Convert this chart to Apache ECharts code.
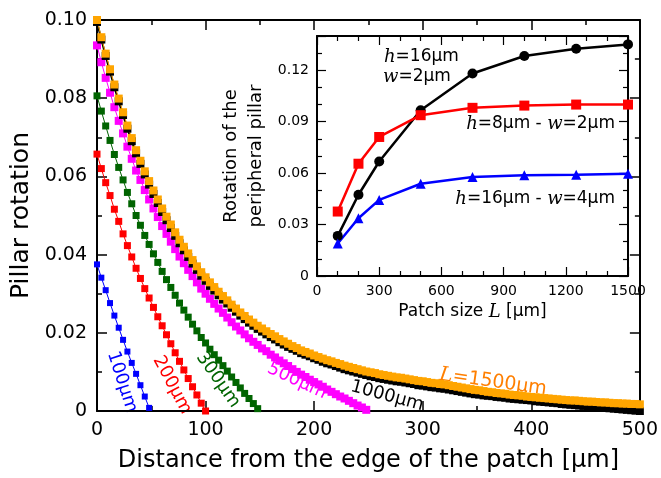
<!DOCTYPE html>
<html>
<head>
<meta charset="utf-8">
<script src="https://cdn.jsdelivr.net/npm/echarts@6/dist/echarts.min.js"></script>
<style>
  html, body { margin: 0; padding: 0; background: #fff; }
  #chart { width: 661px; height: 478px; }
</style>
</head>
<body>
<div id="chart"></div>
<script>
// distance from the patch edge (µm), one pillar every 4 µm
const distance = [0,4,8,12,16,20,24,28,32,36,40,44,48,52,56,60,64,68,72,76,80,84,88,92,96,100,104,108,112,116,120,124,128,132,136,140,144,148,152,156,160,164,168,172,176,180,184,188,192,196,200,204,208,212,216,220,224,228,232,236,240,244,248,252,256,260,264,268,272,276,280,284,288,292,296,300,304,308,312,316,320,324,328,332,336,340,344,348,352,356,360,364,368,372,376,380,384,388,392,396,400,404,408,412,416,420,424,428,432,436,440,444,448,452,456,460,464,468,472,476,480,484,488,492,496,500];

// pillar rotation for each patch size L
const rot100 = [0.0375,0.0341,0.0309,0.0276,0.0244,0.0213,0.0182,0.0152,0.0123,0.0095,0.0066,0.0037,0.0008];
const rot200 = [0.0657,0.0620,0.0584,0.0551,0.0516,0.0485,0.0453,0.0423,0.0394,0.0365,0.0339,0.0313,0.0289,0.0265,0.0241,0.0218,0.0195,0.0172,0.0149,0.0127,0.0105,0.0083,0.0062,0.0041,0.0020,0.0000];
const rot300 = [0.0806,0.0767,0.0729,0.0692,0.0656,0.0623,0.0591,0.0559,0.0530,0.0500,0.0475,0.0449,0.0426,0.0402,0.0380,0.0357,0.0336,0.0316,0.0296,0.0276,0.0258,0.0240,0.0222,0.0205,0.0188,0.0174,0.0158,0.0144,0.0130,0.0116,0.0102,0.0087,0.0073,0.0059,0.0045,0.0032,0.0019,0.0006];
const rot500 = [0.0935,0.0892,0.0852,0.0814,0.0777,0.0742,0.0710,0.0676,0.0645,0.0615,
  0.0591,0.0565,0.0541,0.0518,0.0496,0.0473,0.0453,0.0433,0.0414,0.0395,
  0.0378,0.0361,0.0345,0.0329,0.0313,0.0300,0.0287,0.0274,0.0262,0.0251,
  0.0239,0.0227,0.0216,0.0206,0.0196,0.0186,0.0177,0.0169,0.0160,0.0153,
  0.0144,0.0137,0.0129,0.0122,0.0115,0.0107,0.0100,0.0093,0.0087,0.0080,
  0.0074,0.0068,0.0062,0.0055,0.0049,0.0043,0.0037,0.0032,0.0026,0.0020,
  0.0014,0.0009,0.0003];
const rot1000 = [0.0995,0.0950,0.0908,0.0868,0.0828,0.0792,0.0757,0.0722,0.0690,0.0659,
  0.0632,0.0605,0.0579,0.0555,0.0532,0.0509,0.0488,0.0468,0.0448,0.0429,
  0.0411,0.0394,0.0377,0.0361,0.0346,0.0333,0.0320,0.0308,0.0296,0.0285,
  0.0275,0.0264,0.0254,0.0244,0.0235,0.0226,0.0218,0.0210,0.0203,0.0196,
  0.0189,0.0183,0.0176,0.0170,0.0164,0.0159,0.0154,0.0148,0.0144,0.0140,
  0.0135,0.0131,0.0126,0.0122,0.0119,0.0115,0.0111,0.0107,0.0104,0.0101,
  0.0098,0.0095,0.0092,0.0089,0.0087,0.0084,0.0082,0.0080,0.0078,0.0076,
  0.0075,0.0073,0.0071,0.0069,0.0066,0.0065,0.0063,0.0061,0.0060,0.0058,
  0.0057,0.0055,0.0053,0.0051,0.0049,0.0047,0.0045,0.0043,0.0042,0.0040,
  0.0039,0.0038,0.0036,0.0035,0.0034,0.0032,0.0031,0.0030,0.0029,0.0028,
  0.0027,0.0025,0.0024,0.0023,0.0022,0.0021,0.0020,0.0018,0.0017,0.0016,
  0.0015,0.0014,0.0013,0.0012,0.0011,0.0010,0.0009,0.0008,0.0007,0.0006,
  0.0005,0.0004,0.0003,0.0002,0.0001,0.0000];
const rot1500 = [0.1000,0.0956,0.0914,0.0874,0.0835,0.0799,0.0764,0.0730,0.0698,0.0667,
  0.0640,0.0613,0.0588,0.0564,0.0541,0.0518,0.0497,0.0477,0.0457,0.0438,
  0.0420,0.0403,0.0386,0.0370,0.0355,0.0342,0.0329,0.0317,0.0305,0.0294,
  0.0283,0.0272,0.0262,0.0252,0.0243,0.0234,0.0226,0.0218,0.0211,0.0204,
  0.0197,0.0191,0.0184,0.0178,0.0172,0.0166,0.0161,0.0155,0.0151,0.0147,
  0.0142,0.0138,0.0134,0.0130,0.0127,0.0123,0.0120,0.0116,0.0113,0.0110,
  0.0107,0.0104,0.0101,0.0099,0.0097,0.0094,0.0092,0.0090,0.0088,0.0086,
  0.0085,0.0083,0.0081,0.0079,0.0077,0.0076,0.0074,0.0072,0.0071,0.0069,
  0.0068,0.0066,0.0064,0.0062,0.0060,0.0058,0.0056,0.0054,0.0053,0.0051,
  0.0049,0.0048,0.0046,0.0045,0.0044,0.0042,0.0041,0.0040,0.0039,0.0037,
  0.0036,0.0035,0.0034,0.0033,0.0032,0.0031,0.0030,0.0029,0.0028,0.0027,
  0.0027,0.0026,0.0025,0.0024,0.0024,0.0023,0.0022,0.0022,0.0021,0.0020,
  0.0020,0.0019,0.0019,0.0018,0.0018,0.0017];

// inset: rotation of the peripheral pillar vs patch size
const patchSize = [100,200,300,500,750,1000,1250,1500];
const h16w2 = [0.0234,0.0474,0.0668,0.0967,0.1181,0.1283,0.1326,0.1351];
const h8w2  = [0.0376,0.0655,0.0811,0.0938,0.0981,0.0994,0.1000,0.1000];
const h16w4 = [0.0190,0.0337,0.0444,0.0538,0.0577,0.0587,0.0590,0.0596];

const SANS = 'DejaVu Sans';
const SERIF = 'DejaVu Serif';

const pairs = (xs, ys) => ys.map((y, i) => [xs[i], y]);

const chart = echarts.init(document.getElementById('chart'));

const frameAxis = (extra) => Object.assign({
  type: 'value',
  axisLine: { show: true, onZero: false, lineStyle: { color: '#000', width: 2 } },
  axisTick: { show: true, inside: true, length: 10, lineStyle: { color: '#000', width: 1.5 } },
  minorTick: { show: true, length: 5, lineStyle: { color: '#000', width: 1.5 } },
  splitLine: { show: false },
  axisLabel: { show: false }
}, extra);

const mathRich = (size, color) => ({
  a: { fontFamily: SANS, fontSize: size, color: color },
  i: { fontFamily: SERIF, fontStyle: 'italic', fontSize: size + 1, color: color }
});

const fmt = (v) => (v === 0 ? '0' : v.toFixed(2));

const mainSeries = (name, ys, color, size, lineWidth) => ({
  name: name,
  type: 'line',
  xAxisIndex: 0,
  yAxisIndex: 0,
  data: pairs(distance, ys),
  symbol: 'rect',
  symbolSize: size,
  clip: false,
  itemStyle: { color: color },
  lineStyle: { color: color, width: lineWidth }
});

const insetSeries = (name, ys, color, symbol, size) => ({
  name: name,
  type: 'line',
  xAxisIndex: 2,
  yAxisIndex: 2,
  data: pairs(patchSize, ys),
  symbol: symbol,
  symbolSize: size,
  clip: false,
  itemStyle: { color: color },
  lineStyle: { color: color, width: 2.5 }
});

// deg < 0 turns the text clockwise (reading downhill)
const curveLabel = (text, x, y, deg, color, rich) => ({
  type: 'text',
  x: x,
  y: y,
  rotation: deg * Math.PI / 180,
  style: {
    text: text,
    fill: color,
    fontFamily: SANS,
    fontSize: 18,
    align: 'center',
    verticalAlign: 'middle',
    rich: rich
  }
});

const option = {
  animation: false,
  backgroundColor: '#fff',
  grid: [
    { left: 97, right: 14, top: 20, bottom: 62 },
    { left: 317, right: 33, top: 36, bottom: 202, show: true, backgroundColor: '#fff', borderWidth: 0 }
  ],
  xAxis: [
    frameAxis({
      gridIndex: 0, position: 'bottom', min: 0, max: 500, interval: 100,
      minorTick: { show: true, splitNumber: 2, length: 5, lineStyle: { color: '#000', width: 1.5 } },
      axisLabel: { show: true, fontFamily: SANS, fontSize: 19, color: '#000', margin: 10 },
      name: 'Distance from the edge of the patch [µm]',
      nameLocation: 'middle', nameGap: 38,
      nameTextStyle: { fontFamily: SANS, fontSize: 24, color: '#000' }
    }),
    frameAxis({
      gridIndex: 0, position: 'top', min: 0, max: 500, interval: 100,
      minorTick: { show: true, splitNumber: 2, length: 5, lineStyle: { color: '#000', width: 1.5 } }
    }),
    frameAxis({
      gridIndex: 1, position: 'bottom', min: 0, max: 1500, interval: 300,
      minorTick: { show: true, splitNumber: 3, length: 5, lineStyle: { color: '#000', width: 1.2 } },
      axisTick: { show: true, inside: true, length: 9, lineStyle: { color: '#000', width: 1.2 } },
      axisLabel: { show: true, fontFamily: SANS, fontSize: 14, color: '#000', margin: 8, formatter: (v) => String(v) },
      name: '{a|Patch size }{i|L}{a| [µm]}',
      nameLocation: 'middle', nameGap: 26,
      nameTextStyle: { rich: mathRich(17, '#000') }
    }),
    frameAxis({
      gridIndex: 1, position: 'top', min: 0, max: 1500, interval: 300,
      minorTick: { show: true, splitNumber: 3, length: 5, lineStyle: { color: '#000', width: 1.2 } },
      axisTick: { show: true, inside: true, length: 9, lineStyle: { color: '#000', width: 1.2 } }
    })
  ],
  yAxis: [
    frameAxis({
      gridIndex: 0, position: 'left', min: 0, max: 0.1, interval: 0.02,
      minorTick: { show: true, splitNumber: 2, length: 5, lineStyle: { color: '#000', width: 1.5 } },
      axisLabel: { show: true, fontFamily: SANS, fontSize: 19, color: '#000', margin: 10, formatter: fmt },
      name: 'Pillar rotation',
      nameLocation: 'middle', nameGap: 48,
      nameTextStyle: { fontFamily: SANS, fontSize: 25, color: '#000' }
    }),
    frameAxis({
      gridIndex: 0, position: 'right', min: 0, max: 0.1, interval: 0.02,
      minorTick: { show: true, splitNumber: 2, length: 5, lineStyle: { color: '#000', width: 1.5 } }
    }),
    frameAxis({
      gridIndex: 1, position: 'left', min: 0, max: 0.14, interval: 0.03,
      minorTick: { show: true, splitNumber: 3, length: 5, lineStyle: { color: '#000', width: 1.2 } },
      axisTick: { show: true, inside: true, length: 9, lineStyle: { color: '#000', width: 1.2 } },
      axisLabel: {
        show: true, fontFamily: SANS, fontSize: 14, color: '#000', margin: 8,
        formatter: (v) => (v > 0.125 ? '' : fmt(v))
      },
      name: 'Rotation of the\nperipheral pillar',
      nameLocation: 'middle', nameGap: 48,
      nameTextStyle: { fontFamily: SANS, fontSize: 18, color: '#000', lineHeight: 25 }
    }),
    frameAxis({
      gridIndex: 1, position: 'right', min: 0, max: 0.14, interval: 0.03,
      minorTick: { show: true, splitNumber: 3, length: 5, lineStyle: { color: '#000', width: 1.2 } },
      axisTick: { show: true, inside: true, length: 9, lineStyle: { color: '#000', width: 1.2 } }
    })
  ],
  series: [
    mainSeries('100', rot100, '#0000ff', 6, 1),
    mainSeries('200', rot200, '#ff0000', 7, 1),
    mainSeries('300', rot300, '#006400', 7, 1),
    mainSeries('500', rot500, '#ff00ff', 8, 1),
    mainSeries('1000', rot1000, '#000000', 8, 2),
    mainSeries('1500', rot1500, '#ffa500', 8, 1),
    insetSeries('h16w2', h16w2, '#000000', 'circle', 10),
    insetSeries('h8w2', h8w2, '#ff0000', 'rect', 10),
    insetSeries('h16w4', h16w4, '#0000ff', 'triangle', 10)
  ],
  graphic: [
    curveLabel('100µm', 122, 382, -72, '#0000ff'),
    curveLabel('200µm', 172, 385, -62, '#ff0000'),
    curveLabel('300µm', 218, 380, -55, '#006400'),
    curveLabel('500µm', 297, 381, -25, '#ff00ff'),
    curveLabel('1000µm', 387, 396, -15, '#000000'),
    curveLabel('{i|L}{a|=1500µm}', 493, 382, -8, '#ff7f00', mathRich(19, '#ff7f00')),
    {
      type: 'text', x: 384, y: 57,
      style: { text: '{i|h}{a|=16µm}', align: 'left', verticalAlign: 'middle', rich: mathRich(17, '#000') }
    },
    {
      type: 'text', x: 383, y: 77,
      style: { text: '{i|w}{a|=2µm}', align: 'left', verticalAlign: 'middle', rich: mathRich(17, '#000') }
    },
    {
      type: 'text', x: 615, y: 124,
      style: { text: '{i|h}{a|=8µm - }{i|w}{a|=2µm}', align: 'right', verticalAlign: 'middle', rich: mathRich(17, '#ff0000') }
    },
    {
      type: 'text', x: 615, y: 199,
      style: { text: '{i|h}{a|=16µm - }{i|w}{a|=4µm}', align: 'right', verticalAlign: 'middle', rich: mathRich(17, '#0000ff') }
    }
  ]
};

chart.setOption(option);
</script>
</body>
</html>
